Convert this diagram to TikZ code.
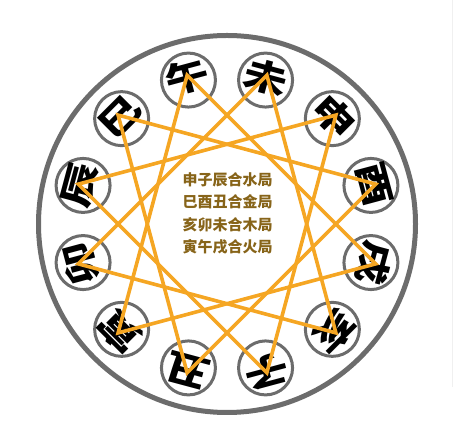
\documentclass[tikz,border=0pt]{standalone}
\usepackage{fontspec}
\usepackage{graphicx}
\newfontfamily\cjk{Noto Sans CJK SC}
\usetikzlibrary{calc}
\definecolor{starorange}{RGB}{245,166,35}
\definecolor{ringgray}{RGB}{108,108,108}
\definecolor{textbrown}{RGB}{135,100,25}
\begin{document}
\begin{tikzpicture}[x=1pt,y=1pt,
  bigring/.style={circle, draw=ringgray, line width=5pt, minimum size=377pt, inner sep=0pt},
  smallring/.style={circle, draw=ringgray, line width=3pt, fill=white, minimum size=54pt, inner sep=0pt},
  branch/.style={font=\cjk\bfseries\fontsize{35}{35}\selectfont, inner sep=0pt, text=black},
  starline/.style={draw=starorange, line width=3.6pt, line join=miter},
  centertext/.style={font=\cjk\bfseries\fontsize{15}{22.4}\selectfont, text=textbrown, align=center, inner sep=0pt}]
\useasboundingbox (0,0) rectangle (462,427);
\draw[gray!12, line width=1pt] (452,427) -- (452,40);
\coordinate (C) at (227,203);
\node[bigring] (outer) at (C) {};
\foreach \g [count=\k from 0] in {午,未,申,酉,戌,亥,子,丑,寅,卯,辰,巳}{
  \pgfmathsetmacro{\a}{105-30*\k}
  \pgfmathsetmacro{\r}{15-30*\k}
  \node[smallring] (c\k) at ($(C)+(\a:149)$) {};
  \node[branch, rotate=\r] (g\k) at ($(C)+(\a:152)$) {\scalebox{1.25}[1]{\g}};
  \coordinate (v\k) at ($(C)+(\a:154)$);
}
\draw[starline] (v0) -- (v4) -- (v8) -- cycle;
\draw[starline] (v1) -- (v5) -- (v9) -- cycle;
\draw[starline] (v2) -- (v6) -- (v10) -- cycle;
\draw[starline] (v3) -- (v7) -- (v11) -- cycle;
\node[centertext] (label) at (227.5,213.5) {申子辰合水局\\巳酉丑合金局\\亥卯未合木局\\寅午戌合火局};
\end{tikzpicture}
\end{document}
